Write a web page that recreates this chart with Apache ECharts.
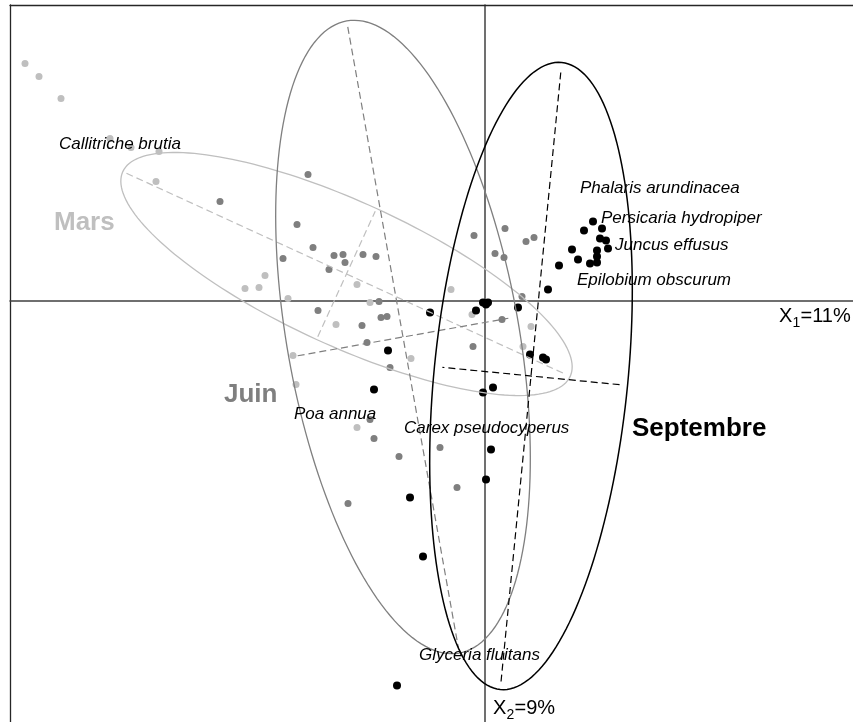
<!DOCTYPE html>
<html><head><meta charset="utf-8">
<script src="https://cdn.jsdelivr.net/npm/echarts@6/dist/echarts.min.js"></script>
<style>html,body{margin:0;padding:0;background:#fff}#c{width:853px;height:722px}</style>
</head><body><div id="c"></div>
<script>
// ---- data (PCA scores, arbitrary units) ----
const groupNames = ['Mars', 'Juin', 'Septembre'];
const marsPoints = [
  [-4.60,2.37],[-4.46,2.24],[-4.24,2.02],[-3.75,1.62],[-3.54,1.53],[-3.26,1.49],[-3.29,1.19],
  [-2.20,0.25],[-2.40,0.12],[-2.26,0.13],[-1.97,0.02],[-1.28,0.16],[-1.15,-0.02],[-1.49,-0.24],
  [-0.34,0.11],[-0.13,-0.14],[0.46,-0.26],[0.38,-0.46],[-0.74,-0.58],[-1.92,-0.55],[-1.89,-0.84],[-1.28,-1.27]
];
const juinPoints = [
  [-2.65,0.99],[-1.77,1.26],[-1.88,0.76],[-1.72,0.53],[-2.02,0.42],[-1.51,0.45],[-1.42,0.46],[-1.40,0.38],
  [-1.22,0.46],[-1.09,0.44],[-1.56,0.31],[-1.06,-0.01],[-1.67,-0.10],[-1.23,-0.25],[-1.04,-0.17],[-0.98,-0.16],
  [-1.18,-0.42],[-0.95,-0.67],[-0.11,0.65],[0.20,0.72],[0.41,0.59],[0.49,0.63],[0.10,0.47],[0.19,0.43],
  [0.37,0.04],[0.17,-0.19],[-0.12,-0.46],[-1.15,-1.19],[-1.11,-1.38],[-0.86,-1.56],[-0.45,-1.47],[-0.28,-1.87],[-1.37,-2.03]
];
const septPoints = [
  [1.08,0.79],[0.99,0.70],[1.17,0.72],[1.15,0.62],[1.21,0.60],[1.23,0.52],[1.12,0.50],[0.87,0.51],
  [0.93,0.41],[1.05,0.37],[1.12,0.38],[1.12,0.44],[0.74,0.35],[0.63,0.11],[-0.55,-0.12],[-0.09,-0.10],
  [-0.02,-0.02],[0.01,-0.04],[0.03,-0.02],[0.33,-0.07],[0.45,-0.54],[0.58,-0.57],[0.61,-0.59],[-0.97,-0.50],
  [-1.11,-0.89],[0.08,-0.87],[-0.02,-0.92],[0.06,-1.49],[0.01,-1.79],[-0.75,-1.97],[-0.62,-2.56],[-0.88,-3.85]
];
// ellipse parameters per group: centre, semi-axes, orientation (deg), drawn axis half-lengths
const ellipseCenters = [[-1.385,0.265],[-0.82,-0.365],[0.46,-0.755]];
const ellipseRadii = [[2.46,0.72],[3.21,1.16],[3.15,0.97]];
const ellipseAngles = [-24.6,-79.9,84.4];
const ellipseAxisHalf = [[2.42,0.69],[3.15,1.07],[3.07,0.89]];
// species labels
const speciesNames = ['Callitriche brutia','Phalaris arundinacea','Persicaria hydropiper','Juncus effusus',
  'Epilobium obscurum','Poa annua','Carex pseudocyperus','Glyceria fluitans'];
const speciesScores = [[-4.26,1.565],[0.95,1.12],[1.16,0.825],[1.30,0.555],[0.92,0.20],[-1.91,-1.135],[-0.81,-1.275],[-0.66,-3.545]];
const groupLabelAnchors = [[-4.31,0.775],[-2.61,-0.945],[1.47,-1.28]];
const axisInertia = ['11%', '9%'];

// ---- styles ----
const groupColors = ['#bfbfbf', '#7f7f7f', '#000000'];
const pointSizes = [7, 7, 8];
const ellipseWidths = [1.3, 1.3, 1.5];
const FONT = '"Liberation Sans", Arial, sans-serif';

const chart = echarts.init(document.getElementById('c'), null, {renderer: 'canvas'});

const pointSets = [marsPoints, juinPoints, septPoints];
const series = [];
pointSets.forEach((pts, i) => {
  series.push({
    type: 'scatter', name: groupNames[i], data: pts, symbol: 'circle',
    symbolSize: pointSizes[i], itemStyle: {color: groupColors[i], opacity: 1},
    silent: true, z: 2 + i
  });
});

const ellipseData = groupNames.map((g, i) => [
  ellipseCenters[i][0], ellipseCenters[i][1], ellipseRadii[i][0], ellipseRadii[i][1],
  ellipseAngles[i], ellipseAxisHalf[i][0], ellipseAxisHalf[i][1], i
]);
series.push({
  type: 'custom', data: ellipseData, z: 6, silent: true, clip: false,
  renderItem: function (params, api) {
    const cx = api.value(0), cy = api.value(1), a = api.value(2), b = api.value(3);
    const ph = api.value(4) * Math.PI / 180, da = api.value(5), db = api.value(6);
    const gi = api.value(7);
    const c = Math.cos(ph), s = Math.sin(ph);
    const pts = [];
    for (let k = 0; k < 180; k++) {
      const t = k / 180 * 2 * Math.PI;
      const x = cx + a * Math.cos(t) * c - b * Math.sin(t) * s;
      const y = cy + a * Math.cos(t) * s + b * Math.sin(t) * c;
      pts.push(api.coord([x, y]));
    }
    const p1 = api.coord([cx - da * c, cy - da * s]);
    const p2 = api.coord([cx + da * c, cy + da * s]);
    const q1 = api.coord([cx + db * s, cy - db * c]);
    const q2 = api.coord([cx - db * s, cy + db * c]);
    const col = groupColors[gi];
    const dashStyle = {stroke: col, lineWidth: 1.2, lineDash: [7, 4], fill: null};
    return {
      type: 'group', children: [
        {type: 'polygon', shape: {points: pts}, style: {stroke: col, lineWidth: ellipseWidths[gi], fill: null}},
        {type: 'line', shape: {x1: p1[0], y1: p1[1], x2: p2[0], y2: p2[1]}, style: dashStyle},
        {type: 'line', shape: {x1: q1[0], y1: q1[1], x2: q2[0], y2: q2[1]}, style: dashStyle}
      ]
    };
  }
});

const labelBase = {show: true, position: 'right', distance: 0, formatter: '{b}', fontFamily: FONT,
  opacity: 1, textBorderWidth: 0, textShadowBlur: 0};
series.push({
  type: 'scatter', symbolSize: 0, silent: true, z: 8,
  data: speciesNames.map((n, i) => ({name: n, value: speciesScores[i]})),
  label: Object.assign({}, labelBase, {fontStyle: 'italic', fontSize: 17, color: '#000000'})
});
series.push({
  type: 'scatter', symbolSize: 0, silent: true, z: 8,
  data: groupNames.map((n, i) => ({name: n, value: groupLabelAnchors[i],
    label: {color: groupColors[i]}})),
  label: Object.assign({}, labelBase, {fontWeight: 'bold', fontSize: 26})
});

function axisTitle(x, y, sub, rest) {
  return {type: 'group', left: x, top: y, silent: true, children: [
    {type: 'text', x: 0, y: 0, style: {text: 'X', font: '20px ' + FONT, fill: '#000', textVerticalAlign: 'middle'}},
    {type: 'text', x: 13.5, y: 7, style: {text: sub, font: '14px ' + FONT, fill: '#000', textVerticalAlign: 'middle'}},
    {type: 'text', x: 21.5, y: 0, style: {text: '=' + rest, font: '20px ' + FONT, fill: '#000', textVerticalAlign: 'middle'}}
  ]};
}

const X_MIN = -4.75, X_MAX = 3.68, Y_MIN = -4.215, Y_MAX = 2.955;
const hidden = {axisTick: {show: false}, axisLabel: {show: false}, splitLine: {show: false}};
const option = {
  backgroundColor: '#ffffff',
  animation: false,
  grid: {left: 10, top: 5, right: 0, bottom: 0, show: false},
  xAxis: [
    Object.assign({type: 'value', min: X_MIN, max: X_MAX, position: 'bottom',
      axisLine: {onZero: true, lineStyle: {color: '#404040', width: 1.5}}}, hidden),
    Object.assign({type: 'value', min: X_MIN, max: X_MAX, position: 'top',
      axisLine: {show: true, onZero: false, lineStyle: {color: '#262626', width: 1.3}}}, hidden)
  ],
  yAxis: [
    Object.assign({type: 'value', min: Y_MIN, max: Y_MAX, position: 'left',
      axisLine: {onZero: true, lineStyle: {color: '#404040', width: 1.5}}}, hidden),
    Object.assign({type: 'value', min: Y_MIN, max: Y_MAX, position: 'left',
      axisLine: {show: true, onZero: false, lineStyle: {color: '#262626', width: 1.3}}}, hidden)
  ],
  series: series,
  graphic: [axisTitle(779, 306, '1', axisInertia[0]), axisTitle(493, 698, '2', axisInertia[1])]
};
chart.setOption(option);
</script></body></html>
